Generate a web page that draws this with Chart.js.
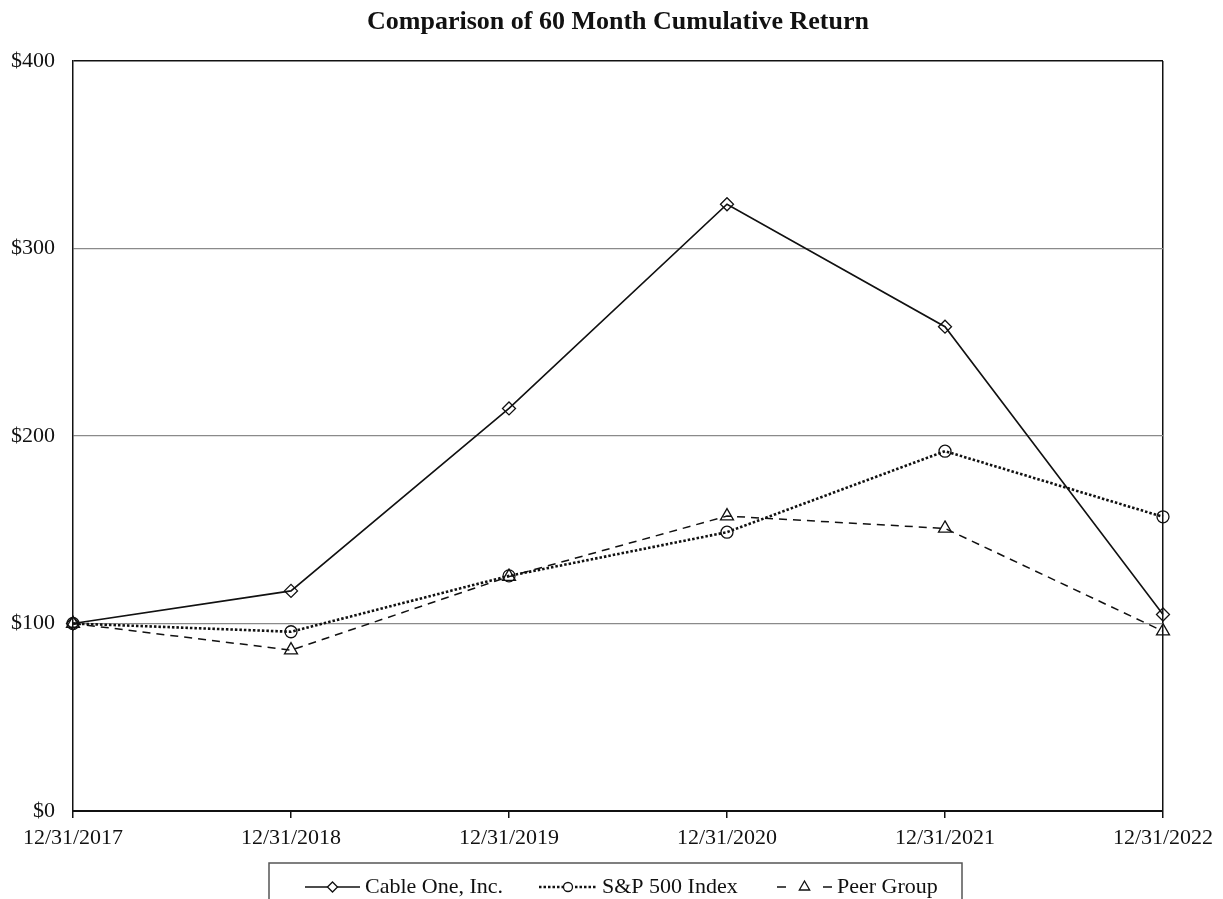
<!DOCTYPE html>
<html>
<head>
<meta charset="utf-8">
<title>Comparison of 60 Month Cumulative Return</title>
<script src="https://cdn.jsdelivr.net/npm/chart.js@4/dist/chart.umd.min.js"></script>
<style>
  html, body { margin: 0; padding: 0; background: #fff; }
  canvas { display: block; }
</style>
</head>
<body>
<canvas id="returnChart" width="1223" height="899"></canvas>
<script>
'use strict';

// Data
const periods = ['12/31/2017', '12/31/2018', '12/31/2019', '12/31/2020', '12/31/2021', '12/31/2022'];
const cableOne = [100, 117.4, 214.7, 323.6, 258.3, 104.8];
const sp500 = [100, 95.6, 125.4, 148.7, 191.9, 156.9];
const peerGroup = [100, 85.8, 125.0, 157.3, 150.7, 95.9];
const yTicks = [0, 100, 200, 300, 400];

const serif = "'Liberation Serif', 'Times New Roman', serif";
const ink = '#111';

// Title + boxed legend under the axis
const decorations = {
    id: 'decorations',
    afterDraw(chart) {
        const { ctx, chartArea } = chart;
        ctx.save();
        ctx.fillStyle = ink;
        ctx.font = `bold 26px ${serif}`;
        ctx.textAlign = 'center';
        ctx.textBaseline = 'alphabetic';
        ctx.fillText('Comparison of 60 Month Cumulative Return', (chartArea.left + chartArea.right) / 2, 29);

        // legend box (bottom edge runs off the canvas, like the source)
        ctx.strokeStyle = '#555';
        ctx.lineWidth = 1.5;
        ctx.beginPath();
        ctx.moveTo(269, 905);
        ctx.lineTo(269, 863);
        ctx.lineTo(962, 863);
        ctx.lineTo(962, 905);
        ctx.stroke();

        // legend samples: the peer sample is a single short dash either side
        const slots = [
            { x0: 305, x1: 360, dash: null },
            { x0: 539, x1: 597, dash: null },
            { x0: 777, x1: 832, dash: [9, 37] },
        ];
        const y = 887;
        chart.data.datasets.forEach((ds, i) => {
            const s = slots[i];
            ctx.save();
            ctx.strokeStyle = ds.borderColor;
            ctx.lineWidth = ds.borderWidth;
            ctx.setLineDash(s.dash || ds.borderDash || []);
            ctx.beginPath();
            ctx.moveTo(s.x0, y);
            ctx.lineTo(s.x1, y);
            ctx.stroke();
            ctx.setLineDash([]);
            ctx.fillStyle = '#fff';
            ctx.strokeStyle = ds.pointBorderColor;
            ctx.lineWidth = ds.pointBorderWidth;
            Chart.helpers.drawPoint(ctx, {
                pointStyle: ds.pointStyle, radius: ds.pointRadius - 1.5, rotation: 0,
                borderWidth: ds.pointBorderWidth,
            }, (s.x0 + s.x1) / 2, y);
            ctx.restore();
            ctx.fillStyle = ink;
            ctx.font = `22px ${serif}`;
            ctx.textAlign = 'left';
            ctx.textBaseline = 'middle';
            ctx.fillText(ds.label, s.x1 + 5, y);
        });
        ctx.restore();
    },
};

const series = (label, data, dash, width, style, radius) => ({
    label, data,
    borderColor: '#111', borderWidth: width, borderDash: dash, borderCapStyle: 'butt',
    pointStyle: style, pointRadius: radius, pointBorderWidth: 1.3,
    pointBackgroundColor: 'rgba(255,255,255,0)', pointBorderColor: '#111',
    tension: 0, fill: false,
});

new Chart(document.getElementById('returnChart'), {
    type: 'line',
    data: {
        labels: periods,
        datasets: [
            series('Cable One, Inc.', cableOne, [], 1.6, 'rectRot', 6.5),
            series('S&P 500 Index', sp500, [2.5, 2], 2.6, 'circle', 6),
            series('Peer Group', peerGroup, [8, 6], 1.5, 'triangle', 7.5),
        ],
    },
    options: {
        responsive: false, devicePixelRatio: 1, animation: false,
        layout: { padding: { top: 61, right: 60, bottom: 44, left: 0 } },
        plugins: { legend: { display: false }, title: { display: false }, tooltip: { enabled: false } },
        scales: {
            x: {
                offset: false,
                afterFit: s => { s.height = 44; },
                border: { display: true, color: '#111', width: 2 },
                grid: {
                    color: c => (c.index === periods.length - 1 ? '#111' : 'rgba(0,0,0,0)'),
                    lineWidth: 1.5, tickColor: '#111', tickLength: 7, drawTicks: true,
                },
                ticks: { color: ink, font: { family: serif, size: 22 }, padding: 7, maxRotation: 0, autoSkip: false },
            },
            y: {
                min: 0, max: 400,
                afterFit: s => { s.width = 73; },
                afterBuildTicks: s => { s.ticks = yTicks.map(v => ({ value: v })); },
                border: { display: true, color: '#111', width: 1.5 },
                grid: {
                    color: c => (c.tick.value === 400 ? '#111' : c.tick.value === 0 ? 'rgba(0,0,0,0)' : '#8a8a8a'),
                    lineWidth: c => (c.tick.value === 400 ? 1.5 : 1.2),
                    drawTicks: false,
                },
                ticks: { color: ink, font: { family: serif, size: 22 }, padding: 18, callback: v => '$' + v },
            },
        },
    },
    plugins: [decorations],
});
</script>
</body>
</html>
